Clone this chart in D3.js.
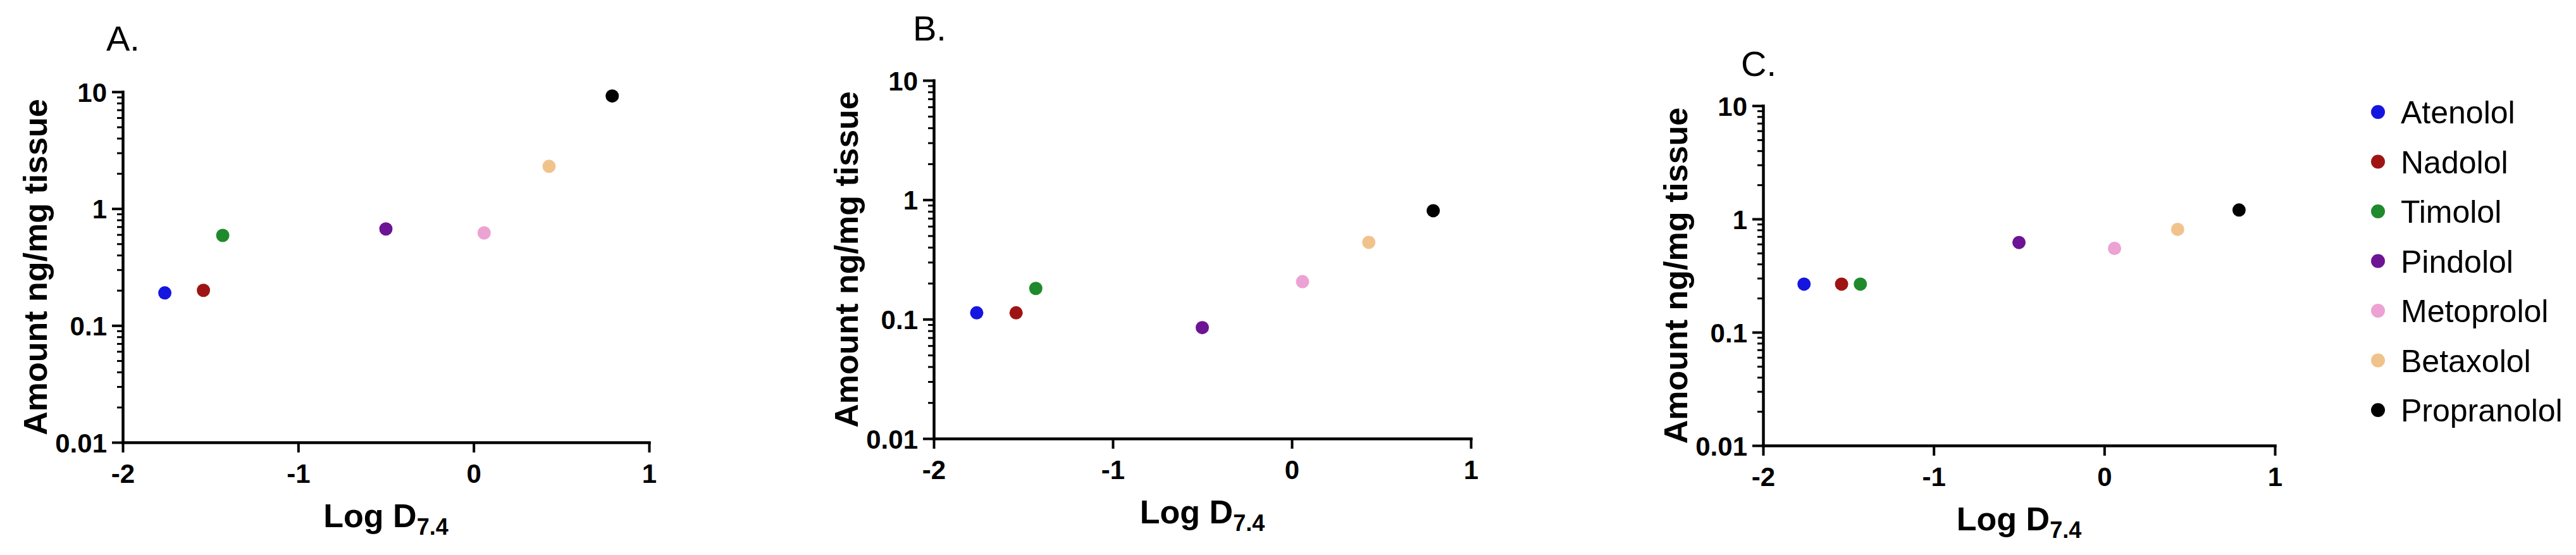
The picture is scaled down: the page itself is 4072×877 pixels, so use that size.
<!DOCTYPE html>
<html>
<head>
<meta charset="utf-8">
<script src="https://cdn.jsdelivr.net/npm/d3@7"></script>
<style>
  body { margin: 0; background: #fff; }
  text { font-family: "Liberation Sans", Arial, sans-serif; fill: #000; }
  .axis path, .axis line { stroke: #000; }
</style>
</head>
<body>
<div id="chart"></div>
<script>
const width = 4072, height = 877;

// data
const drugs = ["Atenolol", "Nadolol", "Timolol", "Pindolol", "Metoprolol", "Betaxolol", "Propranolol"];
const colors = ["#1515e0", "#9e1414", "#1e8a2c", "#6c1494", "#eca2d2", "#f1c38c", "#000000"];
const logD = [-1.76, -1.54, -1.43, -0.50, 0.06, 0.43, 0.79];
const amountA = [0.19, 0.20, 0.59, 0.67, 0.62, 2.3, 9.2];
const amountB = [0.113, 0.113, 0.181, 0.085, 0.206, 0.44, 0.81];
const amountC = [0.266, 0.266, 0.266, 0.62, 0.55, 0.81, 1.2];
const xTicks = [-2, -1, 0, 1];
const xTickLabels = ["-2", "-1", "0", "1"];
const yTicks = [0.01, 0.1, 1, 10];
const yTickLabels = ["0.01", "0.1", "1", "10"];

// panel layout
const panels = [
  { label: "A.", values: amountA, x0: 194, x1: 1026, yTop: 145, yBot: 699, lx: 168, ly: 80 },
  { label: "B.", values: amountB, x0: 1476, x1: 2325, yTop: 127, yBot: 693, lx: 1443, ly: 64 },
  { label: "C.", values: amountC, x0: 2787, x1: 3596, yTop: 167, yBot: 704, lx: 2752, ly: 120 }
];

const svg = d3.select("#chart").append("svg")
    .attr("width", width)
    .attr("height", height);

// minor ticks 2..9 for each decade
let minor = [];
[0.01, 0.1, 1].forEach(function (d) {
  for (let k = 2; k <= 9; k++) minor.push(d * k);
});

panels.forEach(function (p) {
  const x = d3.scaleLinear().domain([-2, 1]).range([p.x0, p.x1]);
  const y = d3.scaleLog().domain([0.01, 10]).range([p.yBot, p.yTop]);

  const g = svg.append("g");

  // minor y ticks
  g.append("g")
      .attr("class", "axis")
      .attr("transform", "translate(" + p.x0 + ",0)")
      .call(d3.axisLeft(y).tickValues(minor).tickFormat("").tickSize(9).tickSizeOuter(0))
      .call(function (s) {
        s.select(".domain").remove();
        s.selectAll("line").attr("stroke-width", 3);
      });

  // major y axis
  g.append("g")
      .attr("class", "axis")
      .attr("transform", "translate(" + p.x0 + ",0)")
      .call(d3.axisLeft(y).tickValues(yTicks)
        .tickFormat(function (d, i) { return yTickLabels[i]; })
        .tickSize(17).tickSizeOuter(0).tickPadding(8))
      .call(function (s) {
        s.select(".domain").attr("stroke-width", 4.5).attr("stroke-linecap", "square");
        s.selectAll("line").attr("stroke-width", 4);
        s.selectAll("text")
          .style("font-size", "42px")
          .style("font-weight", "bold")
          .attr("dy", "0.36em");
      });

  // x axis
  g.append("g")
      .attr("class", "axis")
      .attr("transform", "translate(0," + p.yBot + ")")
      .call(d3.axisBottom(x).tickValues(xTicks)
        .tickFormat(function (d, i) { return xTickLabels[i]; })
        .tickSize(16).tickSizeOuter(0).tickPadding(18))
      .call(function (s) {
        s.select(".domain").attr("stroke-width", 4.5).attr("stroke-linecap", "square");
        s.selectAll("line").attr("stroke-width", 4);
        s.selectAll("text")
          .style("font-size", "42px")
          .style("font-weight", "bold")
          .attr("dy", "0.71em");
      });

  // points
  g.selectAll("circle")
      .data(p.values)
      .enter().append("circle")
      .attr("cx", function (d, i) { return x(logD[i]); })
      .attr("cy", function (d) { return y(d); })
      .attr("r", 10.5)
      .attr("fill", function (d, i) { return colors[i]; });

  // panel label
  g.append("text")
      .attr("x", p.lx)
      .attr("y", p.ly)
      .style("font-size", "56px")
      .text(p.label);

  // y title
  g.append("text")
      .attr("transform", "translate(" + (p.x0 - 120) + "," + ((p.yTop + p.yBot) / 2) + ") rotate(-90)")
      .attr("text-anchor", "middle")
      .style("font-size", "52px")
      .style("font-weight", "bold")
      .text("Amount ng/mg tissue");

  // x title with subscript
  const xt = g.append("text")
      .attr("x", (p.x0 + p.x1) / 2)
      .attr("y", p.yBot + 134)
      .attr("text-anchor", "middle")
      .style("font-size", "52px")
      .style("font-weight", "bold");
  xt.append("tspan").text("Log D");
  xt.append("tspan").attr("dy", 12).style("font-size", "36px").text("7.4");
});

// legend
const legend = svg.append("g");
const ly = d3.scalePoint().domain(drugs).range([177, 648]);

legend.selectAll("circle")
    .data(drugs)
    .enter().append("circle")
    .attr("cx", 3759)
    .attr("cy", function (d) { return ly(d); })
    .attr("r", 11)
    .attr("fill", function (d, i) { return colors[i]; });

legend.selectAll("text")
    .data(drugs)
    .enter().append("text")
    .attr("x", 3795)
    .attr("y", function (d) { return ly(d); })
    .attr("dy", "0.36em")
    .style("font-size", "50px")
    .text(function (d) { return d; });
</script>
</body>
</html>
